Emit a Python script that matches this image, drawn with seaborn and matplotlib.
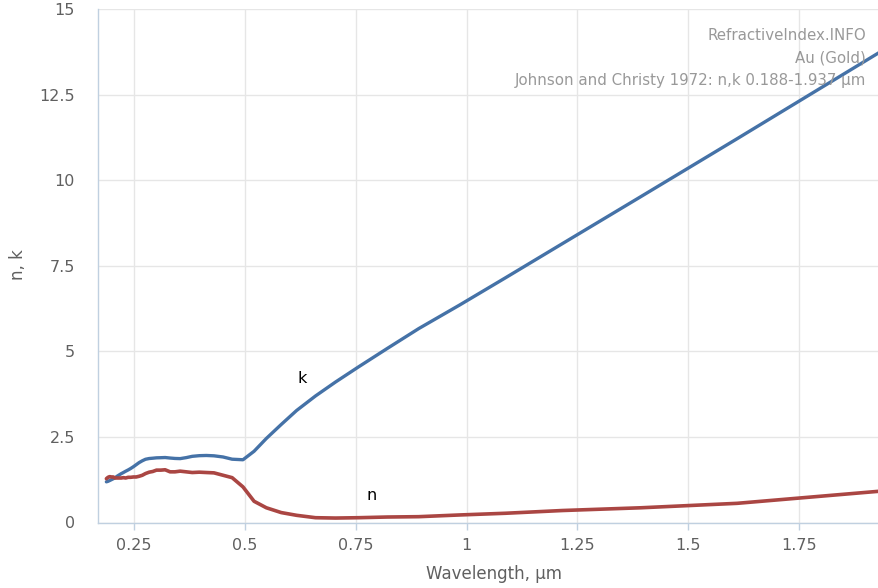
import matplotlib
matplotlib.use("Agg")
import matplotlib.pyplot as plt
import seaborn as sns
import pandas as pd
import numpy as np

wavelength = [0.1879, 0.1916, 0.1953, 0.1993, 0.2033, 0.2073, 0.2119, 0.2164, 0.2214, 0.2262,
              0.2313, 0.2371, 0.2426, 0.2490, 0.2551, 0.2616, 0.2689, 0.2761, 0.2844, 0.2924,
              0.3009, 0.3107, 0.3204, 0.3315, 0.3425, 0.3542, 0.3679, 0.3815, 0.3974, 0.4133,
              0.4305, 0.4509, 0.4714, 0.4959, 0.5209, 0.5486, 0.5821, 0.6168, 0.6595, 0.7045,
              0.7560, 0.8211, 0.8920, 0.9840, 1.0880, 1.2160, 1.3930, 1.6100, 1.9370]
n_vals = [1.28, 1.32, 1.34, 1.33, 1.33, 1.30, 1.30, 1.30, 1.30, 1.31,
          1.30, 1.32, 1.32, 1.33, 1.33, 1.35, 1.38, 1.43, 1.47, 1.49,
          1.53, 1.53, 1.54, 1.48, 1.48, 1.50, 1.48, 1.46, 1.47, 1.46,
          1.45, 1.38, 1.31, 1.04, 0.62, 0.43, 0.29, 0.21, 0.14, 0.13,
          0.14, 0.16, 0.17, 0.22, 0.27, 0.35, 0.43, 0.56, 0.92]
k_vals = [1.188, 1.203, 1.226, 1.251, 1.277, 1.304, 1.350, 1.387, 1.427, 1.460,
          1.497, 1.536, 1.577, 1.631, 1.688, 1.749, 1.803, 1.847, 1.869, 1.878,
          1.889, 1.893, 1.898, 1.883, 1.871, 1.866, 1.895, 1.933, 1.952, 1.958,
          1.948, 1.914, 1.849, 1.833, 2.081, 2.455, 2.863, 3.272, 3.697, 4.103,
          4.542, 5.083, 5.663, 6.350, 7.150, 8.145, 9.519, 11.21, 13.78]
x_ticks = [0.25, 0.5, 0.75, 1.0, 1.25, 1.5, 1.75]
x_tick_labels = ["0.25", "0.5", "0.75", "1", "1.25", "1.5", "1.75"]
y_ticks = [0, 2.5, 5, 7.5, 10, 12.5, 15]
y_tick_labels = ["0", "2.5", "5", "7.5", "10", "12.5", "15"]
title_lines = ["RefractiveIndex.INFO", "Au (Gold)", "Johnson and Christy 1972: n,k 0.188-1.937 µm"]

df = pd.DataFrame({"wl": wavelength, "n": n_vals, "k": k_vals})

sns.set_theme(style="white")
plt.rcParams['font.family'] = ['DejaVu Sans']

fig = plt.figure(figsize=(8.79, 5.88), dpi=100)
ax = fig.add_axes([98/879, 1 - 522.5/588, (879 - 98)/879, (522.5 - 9)/588])

sns.lineplot(data=df, x="wl", y="k", ax=ax, color="#4572A7", linewidth=2.4)
sns.lineplot(data=df, x="wl", y="n", ax=ax, color="#AA4643", linewidth=2.6)

ax.set_xlim(0.169, 1.93)
ax.set_ylim(0, 15)
ax.set_xticks(x_ticks)
ax.set_xticklabels(x_tick_labels)
ax.set_yticks(y_ticks)
ax.set_yticklabels(y_tick_labels)
ax.grid(True, color="#E6E6E6", linewidth=1)
ax.set_axisbelow(True)

for s in ["top", "right"]:
    ax.spines[s].set_visible(False)
for s in ["left", "bottom"]:
    ax.spines[s].set_color("#C0D0E0")
    ax.spines[s].set_linewidth(1)

ax.tick_params(axis="x", length=5, width=1, color="#C0D0E0", labelsize=11.5, labelcolor="#606060", pad=6, direction="out", bottom=True)
ax.tick_params(axis="y", length=0, labelsize=11.5, labelcolor="#606060", pad=16.5)

ax.set_xlabel("Wavelength, µm", fontsize=12, color="#606060")
ax.set_ylabel("n, k", fontsize=12, color="#606060")
ax.xaxis.set_label_coords((494 - 98) / 781, -(574 - 522.5) / 513.5)
ax.yaxis.set_label_coords((18 - 98) / 781, (522.5 - 265) / 513.5)
ax.xaxis.label.set_va("center")
ax.yaxis.label.set_va("center")

for i, line in enumerate(title_lines):
    fig.text(866/879, 1 - (35 + 23 * i)/588, line, ha="right", va="center", fontsize=10.8, color="#999999")

ax.text(0.629, 4.22, "k", fontsize=11.5, color="#000000", ha="center", va="center")
ax.text(0.787, 0.80, "n", fontsize=11.5, color="#000000", ha="center", va="center")

fig.savefig("out.png", dpi=100)
